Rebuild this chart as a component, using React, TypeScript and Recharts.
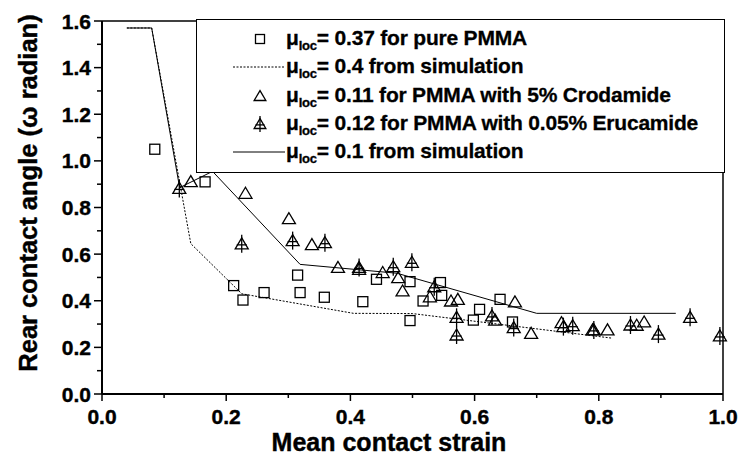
import { ComposedChart, Scatter, XAxis, YAxis, ReferenceLine } from "recharts"

// strain values and angles
const pureX = [0.085, 0.166, 0.212, 0.227, 0.261, 0.315, 0.319, 0.358, 0.42, 0.442, 0.496, 0.545, 0.547, 0.517, 0.496, 0.641, 0.608, 0.598, 0.661]
const pureY = [1.05, 0.91, 0.465, 0.403, 0.435, 0.51, 0.435, 0.415, 0.396, 0.492, 0.482, 0.478, 0.423, 0.399, 0.315, 0.406, 0.363, 0.317, 0.309]

const crodaX = [0.143, 0.231, 0.301, 0.338, 0.38, 0.414, 0.452, 0.477, 0.484, 0.528, 0.562, 0.573, 0.633, 0.665, 0.691, 0.74, 0.79, 0.814, 0.861, 0.873]
const crodaY = [0.911, 0.861, 0.752, 0.641, 0.543, 0.535, 0.521, 0.499, 0.442, 0.417, 0.399, 0.406, 0.317, 0.395, 0.26, 0.306, 0.275, 0.275, 0.295, 0.309]

const erucaX = [0.1245, 0.225, 0.307, 0.359, 0.414, 0.469, 0.499, 0.535, 0.571, 0.571, 0.628, 0.663, 0.743, 0.758, 0.792, 0.851, 0.896, 0.947, 0.995]
const erucaY = [0.882, 0.644, 0.658, 0.649, 0.543, 0.546, 0.565, 0.46, 0.329, 0.253, 0.335, 0.285, 0.289, 0.293, 0.275, 0.296, 0.257, 0.329, 0.249]

const sim04X = [0.04, 0.08, 0.143, 0.225, 0.405, 0.5, 0.82]
const sim04Y = [1.57, 1.57, 0.645, 0.43, 0.346, 0.345, 0.24]

const sim01X = [0.04, 0.08, 0.125, 0.178, 0.319, 0.475, 0.7, 0.924]
const sim01Y = [1.57, 1.57, 0.885, 0.955, 0.556, 0.518, 0.346, 0.346]

const xTicks = [0, 0.1, 0.2, 0.3, 0.4, 0.5, 0.6, 0.7, 0.8, 0.9, 1.0]
const yTicks = [0, 0.1, 0.2, 0.3, 0.4, 0.5, 0.6, 0.7, 0.8, 0.9, 1.0, 1.1, 1.2, 1.3, 1.4, 1.5, 1.6]

const legendLabels = [
  "= 0.37 for pure PMMA",
  "= 0.4 from simulation",
  "= 0.11 for PMMA with 5% Crodamide",
  "= 0.12 for PMMA with 0.05% Erucamide",
  "= 0.1 from simulation",
]

const FONT = '"Liberation Sans", Arial, sans-serif'

const zip = (xs: number[], ys: number[]) => xs.map((x, i) => ({ x, y: ys[i] }))

const isMajor = (v: number) => Math.round(v * 10) % 2 === 0

function SquareMark({ cx, cy, s = 5 }: any) {
  return <rect x={cx - s} y={cy - s} width={s * 2} height={s * 2} fill="none" stroke="#000" strokeWidth={1.3} />
}

function TriangleMark({ cx, cy, s = 1 }: any) {
  const pts = `${cx},${cy - 6 * s} ${cx - 6.5 * s},${cy + 5 * s} ${cx + 6.5 * s},${cy + 5 * s}`
  return <polygon points={pts} fill="none" stroke="#000" strokeWidth={1.3} />
}

function CrossTriangleMark({ cx, cy, s = 1 }: any) {
  return (
    <g>
      <TriangleMark cx={cx} cy={cy} s={s} />
      <line x1={cx} y1={cy - 9 * s} x2={cx} y2={cy + 9 * s} stroke="#000" strokeWidth={1.3} />
      <line x1={cx - 5 * s} y1={cy + 1 * s} x2={cx + 5 * s} y2={cy + 1 * s} stroke="#000" strokeWidth={1.3} />
    </g>
  )
}

function XTick({ x, y, payload }: any) {
  const major = isMajor(payload.value)
  return (
    <g>
      <line x1={x} y1={y} x2={x} y2={y + (major ? 7 : 4)} stroke="#000" strokeWidth={1.5} />
      {major && (
        <text
          x={x}
          y={y + 30}
          textAnchor="middle"
          fontFamily={FONT}
          fontWeight="bold"
          fontSize={21}
          fill="#000"
          stroke="#000"
          strokeWidth={0.4}
        >
          {payload.value.toFixed(1)}
        </text>
      )}
    </g>
  )
}

function YTick({ x, y, payload }: any) {
  const major = isMajor(payload.value)
  return (
    <g>
      <line x1={x} y1={y} x2={x - (major ? 8 : 5)} y2={y} stroke="#000" strokeWidth={1.5} />
      {major && (
        <text
          x={x - 11}
          y={y + 7.5}
          textAnchor="end"
          fontFamily={FONT}
          fontWeight="bold"
          fontSize={21}
          fill="#000"
          stroke="#000"
          strokeWidth={0.4}
        >
          {payload.value.toFixed(1)}
        </text>
      )}
    </g>
  )
}

function LegendSymbol({ i }: { i: number }) {
  if (i === 1) return <line x1={0} y1={14} x2={52} y2={14} stroke="#000" strokeWidth={1} strokeDasharray="2 1.5" />
  if (i === 4) return <line x1={0} y1={14} x2={52} y2={14} stroke="#000" strokeWidth={1} />
  if (i === 0) return <SquareMark cx={27} cy={14} s={4.5} />
  if (i === 2) return <TriangleMark cx={27} cy={14} s={0.9} />
  return <CrossTriangleMark cx={27} cy={14} s={0.9} />
}

function ChartLegend() {
  return (
    <div
      style={{
        position: "absolute",
        left: 196,
        top: 19,
        width: 527,
        height: 152,
        border: "1px solid #000",
        background: "#fff",
        fontFamily: FONT,
        fontWeight: "bold",
        fontSize: 21,
        color: "#000",
        WebkitTextStroke: "0.3px #000",
      }}
    >
      {legendLabels.map((label, i) => (
        <div key={i} style={{ position: "absolute", left: 0, top: 5 + i * 28.3, height: 28, width: "100%" }}>
          <svg width={54} height={28} style={{ position: "absolute", left: 36, top: 0 }}>
            <LegendSymbol i={i} />
          </svg>
          <div style={{ position: "absolute", left: 89, top: 1, whiteSpace: "nowrap", lineHeight: "24px", letterSpacing: -0.2 }}>
            μ<span style={{ fontSize: 13, position: "relative", top: 5 }}>loc</span>
            {label}
          </div>
        </div>
      ))}
    </div>
  )
}

export default function App() {
  const lineShape = () => <g />
  return (
    <div style={{ position: "relative", width: 742, height: 460, background: "#fff" }}>
      <style>{"body{margin:0}"}</style>
      <ComposedChart width={742} height={460} margin={{ top: 21, right: 19, left: 42, bottom: 36 }}>
        <XAxis
          type="number"
          dataKey="x"
          domain={[0, 1]}
          ticks={xTicks}
          interval={0}
          tickSize={0}
          tickMargin={0}
          tick={<XTick />}
          axisLine={{ stroke: "#000", strokeWidth: 2 }}
          height={30}
          label={{
            content: () => (
              <text
                x={389}
                y={451}
                textAnchor="middle"
                fontFamily={FONT}
                fontWeight="bold"
                fontSize={25}
                fill="#000"
                stroke="#000"
                strokeWidth={0.4}
              >
                Mean contact strain
              </text>
            ),
          }}
        />
        <YAxis
          type="number"
          dataKey="y"
          domain={[0, 1.6]}
          ticks={yTicks}
          interval={0}
          tickSize={0}
          tickMargin={0}
          tick={<YTick />}
          axisLine={{ stroke: "#000", strokeWidth: 2 }}
          width={60}
          label={{
            content: () => (
              <text
                x={0}
                y={0}
                transform="translate(37,193) rotate(-90)"
                textAnchor="middle"
                fontFamily={FONT}
                fontWeight="bold"
                fontSize={25.5}
                fill="#000"
                stroke="#000"
                strokeWidth={0.4}
              >
                Rear contact angle (ω radian)
              </text>
            ),
          }}
        />
        <ReferenceLine y={1.6} stroke="#000" strokeWidth={1.5} />
        <ReferenceLine x={1} stroke="#000" strokeWidth={1.5} />
        <Scatter
          name="sim04"
          data={zip(sim04X, sim04Y)}
          line={{ stroke: "#000", strokeWidth: 1, strokeDasharray: "2 1.5" }}
          shape={lineShape}
          isAnimationActive={false}
        />
        <Scatter
          name="sim01"
          data={zip(sim01X, sim01Y)}
          line={{ stroke: "#000", strokeWidth: 1 }}
          shape={lineShape}
          isAnimationActive={false}
        />
        <Scatter name="pure" data={zip(pureX, pureY)} shape={(p: any) => <SquareMark cx={p.cx} cy={p.cy} />} isAnimationActive={false} />
        <Scatter name="croda" data={zip(crodaX, crodaY)} shape={(p: any) => <TriangleMark cx={p.cx} cy={p.cy} />} isAnimationActive={false} />
        <Scatter name="eruca" data={zip(erucaX, erucaY)} shape={(p: any) => <CrossTriangleMark cx={p.cx} cy={p.cy} />} isAnimationActive={false} />
      </ComposedChart>
      <ChartLegend />
    </div>
  )
}
